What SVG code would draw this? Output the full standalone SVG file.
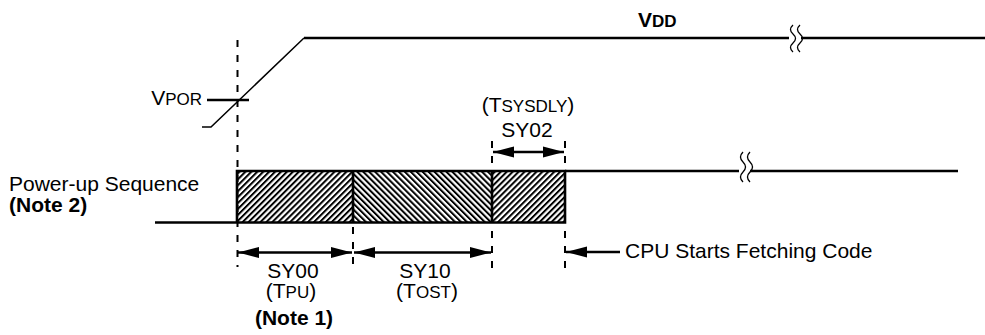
<svg xmlns="http://www.w3.org/2000/svg" width="985" height="335" viewBox="0 0 985 335">
<style>
text{font-family:"Liberation Sans",Arial,sans-serif;font-size:21px;fill:#000}
.b{font-weight:bold}
.sc{font-size:17px}
.sig{stroke:#000;stroke-width:2.6;fill:none}
.thin{stroke:#000;stroke-width:1.5;fill:none}
.dash{stroke:#000;stroke-width:2;stroke-dasharray:7 8;fill:none}
.arr{stroke:#000;stroke-width:2.6;fill:none}
.brk{stroke:#000;stroke-width:1.3;fill:none}
</style>
<defs>
<pattern id="hatchF" patternUnits="userSpaceOnUse" width="4.2" height="4.2" patternTransform="rotate(45)">
<rect width="4.2" height="4.2" fill="#fff"/>
<rect width="2" height="4.2" fill="#000"/>
</pattern>
<pattern id="hatchB" patternUnits="userSpaceOnUse" width="4.2" height="4.2" patternTransform="rotate(-45)">
<rect width="4.2" height="4.2" fill="#fff"/>
<rect width="2" height="4.2" fill="#000"/>
</pattern>
<marker id="ah" markerUnits="userSpaceOnUse" markerWidth="22" markerHeight="12" refX="21" refY="6" orient="auto-start-reverse">
<path d="M0,0.5 L21,6 L0,11.5 Z" fill="#000"/>
</marker>
</defs>

<g id="vdd-signal">
<path class="sig" d="M304,38 H789 M801,38 H985"/>
<path class="thin" d="M202,127 H211 L304,38"/>
<path class="brk" d="M793,25 q-5,4.5 0,9 q5,4.5 0,9 q-5,4.5 0,9 M800,25 q-5,4.5 0,9 q5,4.5 0,9 q-5,4.5 0,9"/>
<text x="638" y="27" class="b">V<tspan class="sc">DD</tspan></text>
</g>

<g id="vpor">
<line class="sig" x1="207" y1="100" x2="249" y2="100"/>
<text x="202" y="105" text-anchor="end">V<tspan class="sc">POR</tspan></text>
</g>

<g id="power-up-sequence">
<path class="sig" d="M155,222.5 H237"/>
<rect x="237" y="171" width="116" height="51.5" fill="url(#hatchF)"/>
<rect x="353" y="171" width="139" height="51.5" fill="url(#hatchB)"/>
<rect x="492" y="171" width="73" height="51.5" fill="url(#hatchF)"/>
<path class="sig" d="M237,222.5 V171 H565 V222.5 H237 M353,171 V222.5 M492,171 V222.5"/>
<path class="sig" d="M565,171 H739 M750,171 H958"/>
<path class="brk" d="M743,152 q-5,5 0,10 q5,5 0,10 q-5,5 0,10 M750,152 q-5,5 0,10 q5,5 0,10 q-5,5 0,10"/>
<text x="9" y="191">Power-up Sequence</text>
<text x="9" y="212" class="b">(Note 2)</text>
</g>

<g id="connectors">
<line class="dash" x1="237.5" y1="40" x2="237.5" y2="267"/>
<line class="dash" x1="353" y1="227" x2="353" y2="269"/>
<line class="dash" x1="492" y1="141" x2="492" y2="269"/>
<line class="dash" x1="565" y1="141" x2="565" y2="269"/>
<line class="arr" x1="238" y1="252.5" x2="352" y2="252.5" marker-start="url(#ah)" marker-end="url(#ah)"/>
<line class="arr" x1="354" y1="252.5" x2="491" y2="252.5" marker-start="url(#ah)" marker-end="url(#ah)"/>
<line class="arr" x1="493" y1="152" x2="564" y2="152" marker-start="url(#ah)" marker-end="url(#ah)"/>
<line class="arr" x1="620" y1="252" x2="566" y2="252" marker-end="url(#ah)"/>
</g>

<g id="sy00">
<text x="293" y="278" text-anchor="middle">SY00</text>
<text x="291" y="298" text-anchor="middle">(T<tspan class="sc">PU</tspan>)</text>
<text x="294" y="325" text-anchor="middle" class="b">(Note 1)</text>
</g>
<g id="sy10">
<text x="425" y="278" text-anchor="middle">SY10</text>
<text x="427" y="298" text-anchor="middle">(T<tspan class="sc">OST</tspan>)</text>
</g>
<g id="sy02">
<text x="528" y="112" text-anchor="middle">(T<tspan class="sc">SYSDLY</tspan>)</text>
<text x="527" y="137" text-anchor="middle">SY02</text>
</g>
<g id="cpu-label">
<text x="625" y="258">CPU Starts Fetching Code</text>
</g>
</svg>
